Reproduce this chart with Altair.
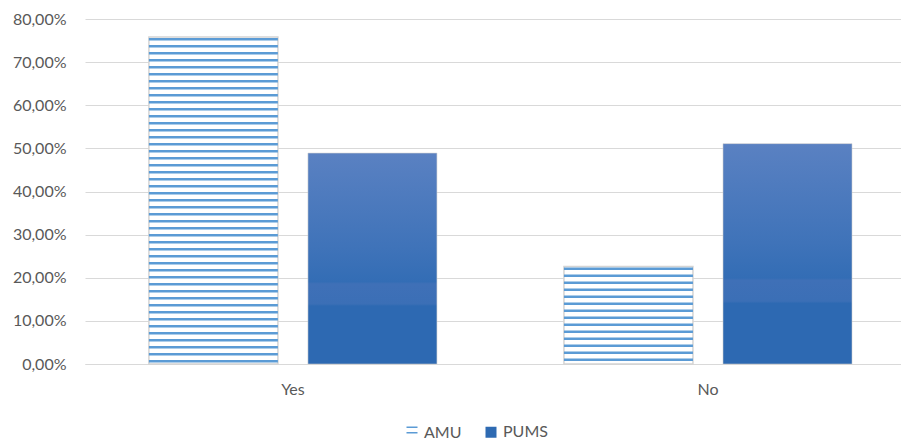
import altair as alt
import pandas as pd

categories = ["Yes", "No"]
series = ["AMU", "PUMS"]
amu_values = [0.758, 0.226]
pums_values = [0.489, 0.511]
y_ticks = [0, 0.1, 0.2, 0.3, 0.4, 0.5, 0.6, 0.7, 0.8]

rows = []
for i, c in enumerate(categories):
    rows.append({"answer": c, "school": "AMU", "value": amu_values[i]})
    rows.append({"answer": c, "school": "PUMS", "value": pums_values[i]})
df = pd.DataFrame(rows)

FONT = "Lato"
TXT = "#595959"
GRID = "#d9d9d9"
FS = 16

x_enc = alt.X("answer:N", sort=categories, title=None,
              scale=alt.Scale(paddingInner=0.306, paddingOuter=0.136, align=0.566),
              axis=alt.Axis(labelAngle=0, ticks=False, domain=True, domainColor=GRID,
                            labelPadding=17, labelFontSize=FS, labelColor=TXT,
                            labelFont=FONT, grid=False))
xo_enc = alt.XOffset("school:N", sort=series,
                     scale=alt.Scale(domain=series, paddingInner=0.189, paddingOuter=0))
y_scale = alt.Scale(domain=[0, 0.8], nice=False)
y_enc = alt.Y("value:Q", title=None, scale=y_scale,
              axis=alt.Axis(values=y_ticks, domain=False, ticks=False, labelPadding=19,
                            labelExpr="replace(format(datum.value, '.2%'), '.', ',')",
                            labelFontSize=FS, labelColor=TXT, labelFont=FONT,
                            gridColor=GRID, gridWidth=1))

base = alt.Chart(df)

amu_bars = base.transform_filter("datum.school == 'AMU'").mark_bar(
    fill="white", stroke="#d4d4d4", strokeWidth=1.5
).encode(x=x_enc, xOffset=xo_enc, y=y_enc)

stripes = base.transform_filter("datum.school == 'AMU'").transform_calculate(
    k="sequence(0, datum.value - 0.004, 0.01623)"
).transform_flatten(["k"]).transform_calculate(
    s_top="datum.value - 0.002 - datum.k",
    s_bot="datum.value - 0.0078 - datum.k"
).transform_filter("datum.s_bot >= 0").mark_bar(color="#5B9BD5").encode(
    x=x_enc, xOffset=xo_enc,
    y=alt.Y("s_top:Q", scale=y_scale, title=None),
    y2="s_bot:Q"
)

grad = alt.Gradient(
    gradient="linear", x1=0, x2=0, y1=0, y2=1,
    stops=[
        alt.GradientStop(color="#5A81C2", offset=0),
        alt.GradientStop(color="#3F73B9", offset=0.45),
        alt.GradientStop(color="#336DB5", offset=0.61),
        alt.GradientStop(color="#3F70B7", offset=0.62),
        alt.GradientStop(color="#3B6FB6", offset=0.715),
        alt.GradientStop(color="#2D69B2", offset=0.725),
        alt.GradientStop(color="#2D69B2", offset=1),
    ],
)
pums_bars = base.transform_filter("datum.school == 'PUMS'").mark_bar(
    color=grad, stroke="#cfcfcf", strokeWidth=0.8, strokeOpacity=0.7
).encode(x=x_enc, xOffset=xo_enc, y=y_enc)

leg = dict(title=None, orient="none", direction="horizontal",
           legendX=319, legendY=405, symbolOpacity=1,
           symbolSize=121, labelFontSize=FS, labelColor=TXT,
           labelFont=FONT, labelOffset=4, columnPadding=20, padding=0)

legend_layer = base.mark_point(filled=True, opacity=0).encode(
    x=x_enc, y=y_enc,
    color=alt.Color("school:N", sort=series,
                    scale=alt.Scale(domain=series, range=["#5B9BD5", "#2E6AB2"]),
                    legend=alt.Legend(**leg)),
    shape=alt.Shape("school:N", sort=series,
                    scale=alt.Scale(domain=series,
                                    range=["M-1,-1.1H1V-0.8H-1Z M-1,-0.1H1V0.2H-1Z", "square"]),
                    legend=alt.Legend(**leg)),
)

chart = alt.layer(amu_bars, stripes, pums_bars, legend_layer).properties(
    width=816, height=345,
    autosize=alt.AutoSizeParams(type="none"),
    padding={"left": 77, "top": 11, "right": 0, "bottom": 78},
).configure_view(stroke=None).configure_axis(labelFont=FONT)

chart.save("out.html", embed_options={"renderer": "svg", "actions": False})
